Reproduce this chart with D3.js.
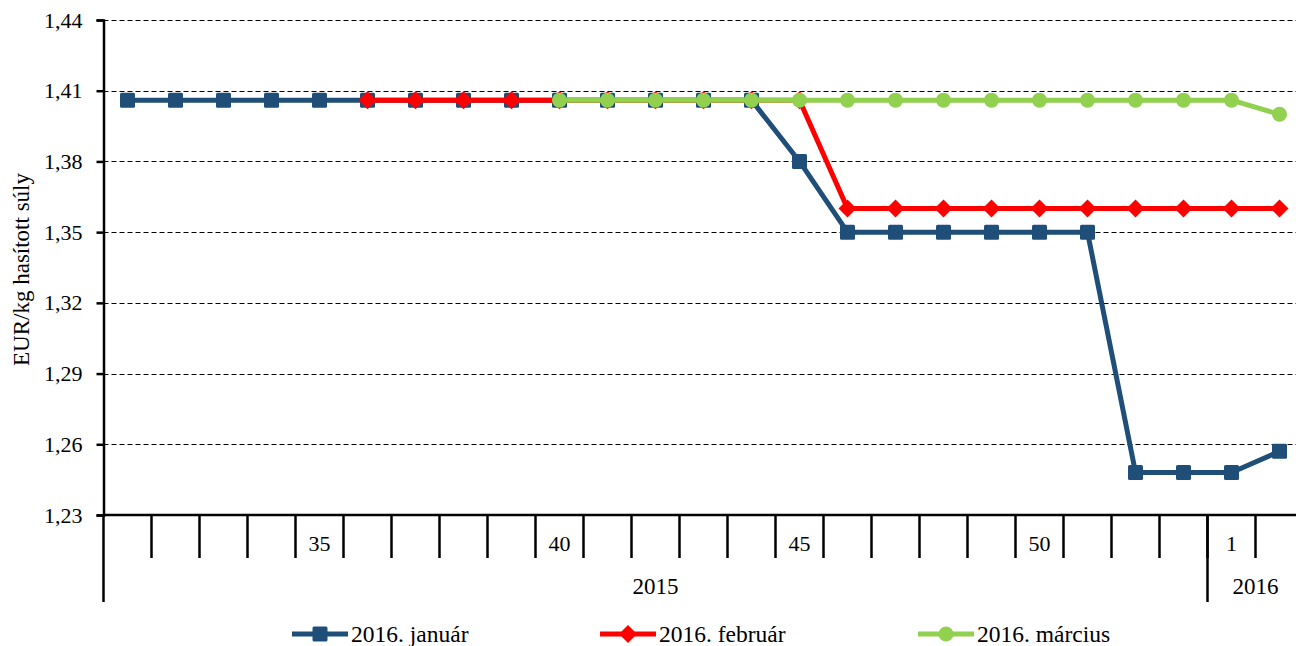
<!DOCTYPE html>
<html>
<head>
<meta charset="utf-8">
<script src="https://cdn.jsdelivr.net/npm/d3@7"></script>
<style>
  body { margin: 0; background: #fff; }
  svg { display: block; font-family: "Liberation Serif", "Times New Roman", serif; }
  .grid line { stroke: #000; stroke-width: 1; stroke-dasharray: 5,3; }
</style>
</head>
<body>
<div id="chart"></div>
<script>
// weeks: 2015 week 31..53, then 2016 week 1..2
const weeks = [31,32,33,34,35,36,37,38,39,40,41,42,43,44,45,46,47,48,49,50,51,52,53,1,2]
const weekLabels = [35, 40, 45, 50, 1]
const years = [{ name: '2015', from: 0, to: 23 }, { name: '2016', from: 23, to: 25 }]
const yTicks = [1.23, 1.26, 1.29, 1.32, 1.35, 1.38, 1.41, 1.44]

const jan = [1.406,1.406,1.406,1.406,1.406,1.406,1.406,1.406,1.406,1.406,1.406,1.406,1.406,1.406,
  1.38,1.35,1.35,1.35,1.35,1.35,1.35,1.248,1.248,1.248,1.257]
const feb = [null,null,null,null,null,1.406,1.406,1.406,1.406,1.406,1.406,1.406,1.406,1.406,1.406,
  1.36,1.36,1.36,1.36,1.36,1.36,1.36,1.36,1.36,1.36]
const mar = [null,null,null,null,null,null,null,null,null,1.406,1.406,1.406,1.406,1.406,1.406,1.406,
  1.406,1.406,1.406,1.406,1.406,1.406,1.406,1.406,1.40]

const series = [
  { name: '2016. január', values: jan, color: '#1f4e79', marker: 'square' },
  { name: '2016. február', values: feb, color: '#ff0000', marker: 'diamond' },
  { name: '2016. március', values: mar, color: '#92d050', marker: 'circle' }
]

const width = 1296
const height = 646
const marginLeft = 103.5
const plotRight = 1303.5
const marginTop = 20
const plotBottom = 515
const fontSize = 22

const svg = d3.select('#chart').append('svg')
  .attr('width', width)
  .attr('height', height)

const x = d3.scaleBand()
  .domain(d3.range(weeks.length))
  .range([marginLeft, plotRight])
  .paddingInner(0).paddingOuter(0)

const y = d3.scaleLinear()
  .domain([1.23, 1.44])
  .range([plotBottom, marginTop])

const fmt = d => d3.format('.2f')(d).replace('.', ',')

// gridlines
svg.append('g').attr('class', 'grid')
  .selectAll('line')
  .data(yTicks.slice(1))
  .enter().append('line')
  .attr('x1', marginLeft).attr('x2', plotRight)
  .attr('y1', d => Math.round(y(d)) + 0.5).attr('y2', d => Math.round(y(d)) + 0.5)

// y axis
const yAxis = d3.axisLeft(y).tickValues(yTicks).tickFormat(fmt).tickSize(7).tickPadding(14)
const gy = svg.append('g')
  .attr('transform', `translate(${marginLeft},0)`)
  .call(yAxis)
gy.select('.domain').attr('stroke', '#000').attr('stroke-width', 2.5)
gy.selectAll('.tick line').attr('stroke', '#000').attr('stroke-width', 2.5)
gy.selectAll('.tick text')
  .attr('font-size', fontSize)
  .attr('font-family', '"Liberation Serif", serif')
  .attr('fill', '#000')

// y title
svg.append('text')
  .attr('transform', `translate(29, ${(marginTop + plotBottom) / 2 + 2}) rotate(-90)`)
  .attr('text-anchor', 'middle')
  .attr('font-size', 23)
  .text('EUR/kg hasított súly')

// x axis line
svg.append('line')
  .attr('x1', marginLeft).attr('x2', plotRight)
  .attr('y1', plotBottom).attr('y2', plotBottom)
  .attr('stroke', '#000').attr('stroke-width', 2.5)

// week boundary ticks
svg.append('g')
  .selectAll('line')
  .data(d3.range(1, weeks.length))
  .enter().append('line')
  .attr('x1', i => x(i)).attr('x2', i => x(i))
  .attr('y1', plotBottom).attr('y2', 558)
  .attr('stroke', '#000').attr('stroke-width', 2.5)

// week labels
svg.append('g')
  .selectAll('text')
  .data(weeks.map((w, i) => ({ w, i })).filter(d => weekLabels.includes(d.w) && (d.w !== 1 || d.i > 22)))
  .enter().append('text')
  .attr('x', d => x(d.i) + x.bandwidth() / 2)
  .attr('y', 551)
  .attr('text-anchor', 'middle')
  .attr('font-size', fontSize)
  .text(d => d.w)

// year separators and labels
svg.append('g')
  .selectAll('line')
  .data(years)
  .enter().append('line')
  .attr('x1', d => x(d.from)).attr('x2', d => x(d.from))
  .attr('y1', plotBottom).attr('y2', 602)
  .attr('stroke', '#000').attr('stroke-width', 2.5)

svg.append('g')
  .selectAll('text')
  .data(years)
  .enter().append('text')
  .attr('x', d => (x(d.from) + (d.to < weeks.length ? x(d.to) : plotRight)) / 2)
  .attr('y', 594)
  .attr('text-anchor', 'middle')
  .attr('font-size', 23)
  .text(d => d.name)

// markers
function drawMarker(g, type, color, cx, cy) {
  if (type === 'square') {
    g.append('rect')
      .attr('x', cx - 7.5).attr('y', cy - 7.5)
      .attr('width', 15).attr('height', 15)
      .attr('rx', 1.5)
      .attr('fill', color)
  } else if (type === 'diamond') {
    g.append('path')
      .attr('d', `M${cx},${cy - 9}L${cx + 9},${cy}L${cx},${cy + 9}L${cx - 9},${cy}Z`)
      .attr('fill', color)
  } else {
    g.append('circle')
      .attr('cx', cx).attr('cy', cy).attr('r', 7.5)
      .attr('fill', color)
  }
}

const line = d3.line()
  .defined(d => d != null)
  .x((d, i) => x(i) + x.bandwidth() / 2)
  .y(d => y(d))

series.forEach(s => {
  const g = svg.append('g')
  g.append('path')
    .attr('d', line(s.values))
    .attr('fill', 'none')
    .attr('stroke', s.color)
    .attr('stroke-width', 5)
    .attr('stroke-linejoin', 'round')
  s.values.forEach((v, i) => {
    if (v == null) return
    drawMarker(g, s.marker, s.color, x(i) + x.bandwidth() / 2, y(v))
  })
})

// legend
const legendX = [292, 600, 918]
const legendY = 634
series.forEach((s, i) => {
  const g = svg.append('g')
  g.append('line')
    .attr('x1', legendX[i]).attr('x2', legendX[i] + 56)
    .attr('y1', legendY).attr('y2', legendY)
    .attr('stroke', s.color).attr('stroke-width', 5)
  drawMarker(g, s.marker, s.color, legendX[i] + 28, legendY)
  g.append('text')
    .attr('x', legendX[i] + 59)
    .attr('y', legendY + 8)
    .attr('font-size', 23.5)
    .text(s.name)
})
</script>
</body>
</html>
